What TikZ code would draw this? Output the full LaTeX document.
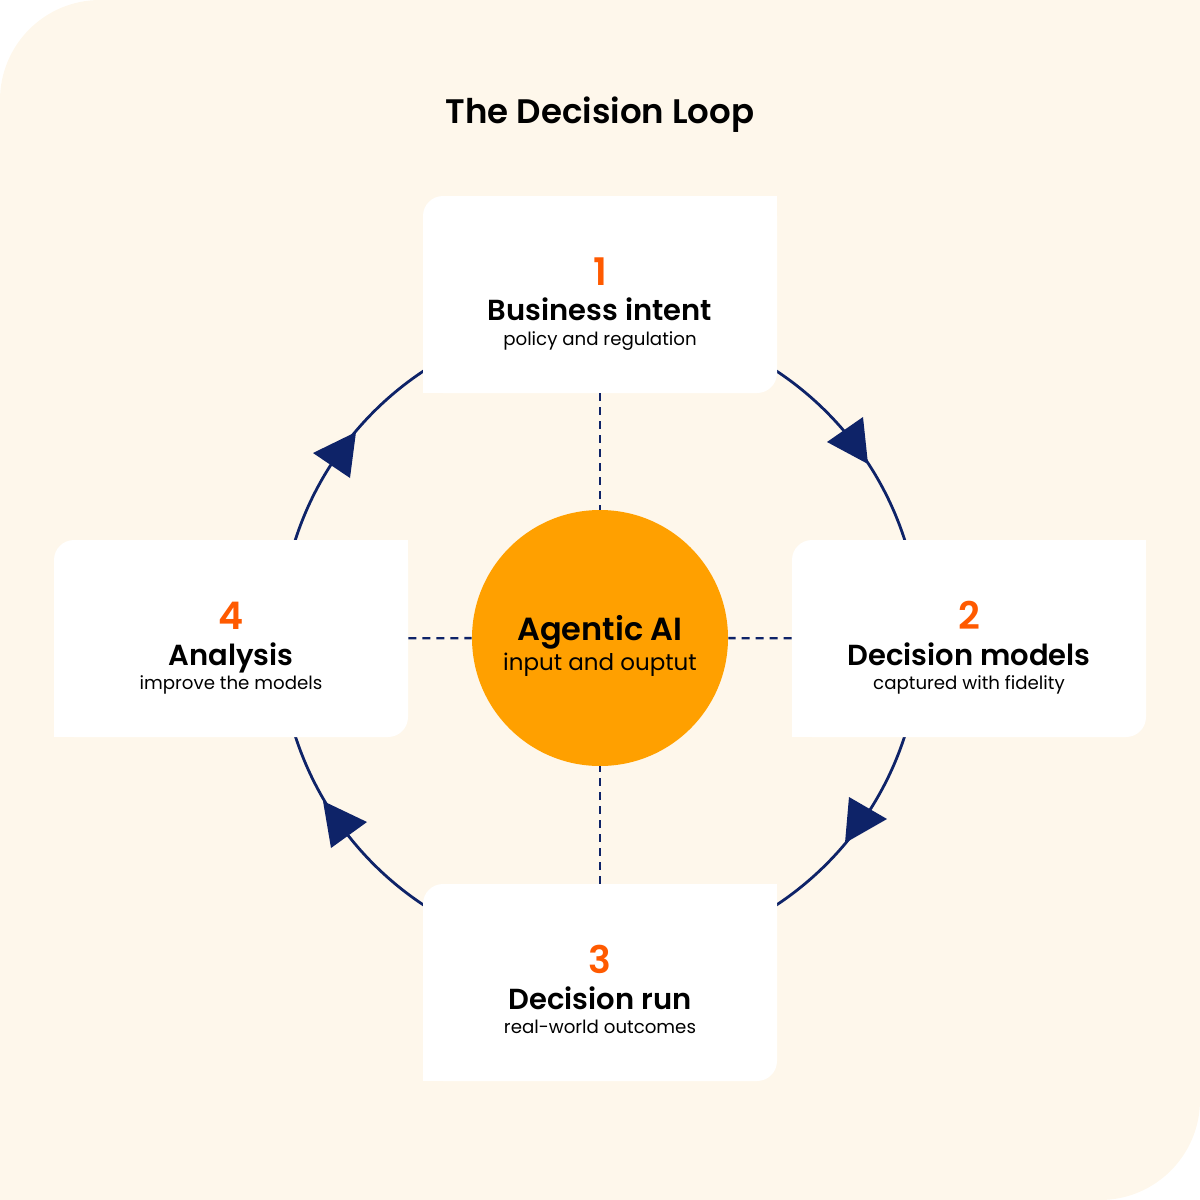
\documentclass[tikz,border=0pt]{standalone}
\usepackage{fontspec}
\setmainfont{Poppins}
\IfFontExistsTF{Poppins SemiBold}{\newfontfamily\semifont{Poppins SemiBold}}{\newcommand{\semifont}{\bfseries}}

\definecolor{cream}{HTML}{FEF7EB}
\definecolor{navy}{HTML}{0E2368}
\definecolor{hubfill}{HTML}{FFA000}
\definecolor{stepnum}{HTML}{FF5A00}

\tikzset{
  stage/.style={rectangle, fill=white, rounded corners=10pt, inner sep=0pt,
    minimum width=177pt, minimum height=98.5pt},
  hub/.style={circle, fill=hubfill, inner sep=0pt, minimum size=128pt},
  link/.style={navy, line width=1.2pt, dash pattern=on 4pt off 3pt},
  numtext/.style={anchor=base, text=stepnum, font=\semifont\fontsize{19}{19}\selectfont},
  headtext/.style={anchor=base, font=\semifont\fontsize{14.5}{14.5}\selectfont},
  subtext/.style={anchor=base, font=\fontsize{9.1}{9.1}\selectfont},
}

\begin{document}
\begin{tikzpicture}[x=0.5pt, y=-0.5pt] % one unit = one pixel
  \useasboundingbox (0,0) rectangle (1200,1200);

  % Background card, rounded top left and bottom right
  \fill[cream, rounded corners=50pt] (0,0) rectangle (1200,1200);
  \fill[cream] (1200,0) rectangle (1100,100);
  \fill[cream] (0,1200) rectangle (100,1100);

  % Title
  \node[anchor=base, font=\semifont\fontsize{17}{17}\selectfont] (title) at (600,123) {The Decision Loop};

  % The loop
  \draw[navy, line width=1.4pt] (600,638) circle (160pt);

  % Stage cards
  \node[stage] (b1) at (600,294.5) {};
  \node[stage] (b2) at (969,638.5) {};
  \node[stage] (b3) at (600,982.5) {};
  \node[stage] (b4) at (231,638.5) {};
  \foreach \b in {b1,b2,b3,b4}
  {
    \fill[white] (\b.north east) rectangle ++(-30,30); % square top right
    \fill[white] (\b.south west) rectangle ++(30,-30); % square bottom left
  }

  % Centre
  \node[hub] (hub) at (600,638) {};

  % Dashed links to the centre
  \foreach \b in {b1,b2,b3,b4}
  {
    \draw[link] (\b) -- (hub);
  }

  % Arrow heads on the loop (tip, base, base)
  \foreach \tx/\ty/\ax/\ay/\bx/\by in {868/464/827/442/863/417, 845/843/849/797/887/819,
      323/801/367/822/331/848, 356/432/313/453/350/478}
  {
    \fill[navy] (\tx,\ty) -- (\ax,\ay) -- (\bx,\by) -- cycle;
  }

  % Card texts
  \node[numtext] (n1) at (600,285) {1};
  \node[headtext] (h1) at (600,320) {Business intent};
  \node[subtext] (s1) at (600,345) {policy and regulation};

  \node[numtext] (n2) at (969,629) {2};
  \node[headtext] (h2) at (969,665) {Decision models};
  \node[subtext] (s2) at (969,689) {captured with fidelity};

  \node[numtext] (n3) at (600,973) {3};
  \node[headtext] (h3) at (600,1009) {Decision run};
  \node[subtext] (s3) at (600,1033) {real-world outcomes};

  \node[numtext] (n4) at (231,629) {4};
  \node[headtext] (h4) at (231,665) {Analysis};
  \node[subtext] (s4) at (231,689) {improve the models};

  % Centre texts
  \node[anchor=base, font=\semifont\fontsize{16}{16}\selectfont] (hubhead) at (600,640) {Agentic AI};
  \node[anchor=base, font=\fontsize{11.5}{11.5}\selectfont] (hubsub) at (600,670) {input and ouptut};
\end{tikzpicture}
\end{document}
